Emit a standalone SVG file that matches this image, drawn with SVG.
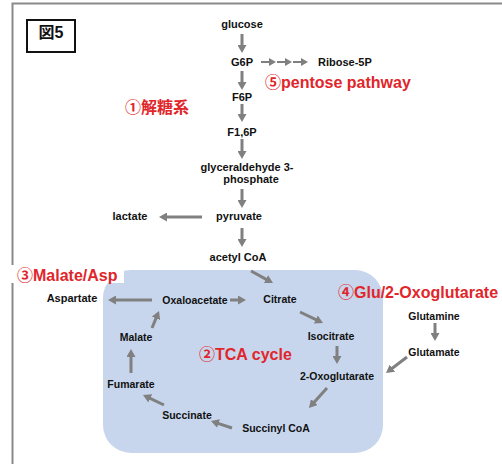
<svg xmlns="http://www.w3.org/2000/svg" width="502" height="464" viewBox="0 0 502 464">
<defs>
<style>
.t{font-family:"Liberation Sans","Noto Sans CJK JP",Arial,sans-serif;font-weight:bold;fill:#111;text-anchor:middle}
.s11{font-size:11px}
.s10{font-size:10.5px}
.r{font-family:"Liberation Sans","Noto Sans CJK JP",Arial,sans-serif;font-weight:bold;fill:#e0262b;font-size:16px}
.a{stroke:#808080;stroke-width:3;fill:none;marker-end:url(#ah)}
.b{stroke:#808080;stroke-width:2;fill:none;marker-end:url(#sh)}
</style>
<marker id="ah" markerUnits="userSpaceOnUse" markerWidth="8" markerHeight="9" refX="3" refY="4.5" orient="auto" viewBox="0 0 8 9">
<path d="M0,0 L8,4.5 L0,9 z" fill="#808080"/>
</marker>
<marker id="sh" markerUnits="userSpaceOnUse" markerWidth="7" markerHeight="8" refX="2" refY="4" orient="auto" viewBox="0 0 7 8">
<path d="M0,0 L7,4 L0,8 z" fill="#808080"/>
</marker>
</defs>
<rect width="502" height="464" fill="#ffffff"/>
<g id="frame">
<path d="M12.5,464 L12.5,3.5 L502,3.5" fill="none" stroke="#8a8a8a" stroke-width="2"/>
</g>
<g id="fig-label">
<rect x="27" y="20" width="48" height="32" fill="#fff" stroke="#111" stroke-width="2"/>
<text class="t" x="51" y="38" style="font-size:16px">図5</text>
</g>
<g id="tca-area">
<rect x="103" y="270" width="280" height="183" rx="28" fill="#c7d6ed"/>
</g>
<g id="connectors">
<line class="a" x1="242" y1="34" x2="242" y2="48"/>
<line class="a" x1="242" y1="71" x2="242" y2="85"/>
<line class="a" x1="242" y1="104" x2="242" y2="117"/>
<line class="a" x1="242" y1="139" x2="242" y2="154"/>
<line class="a" x1="242" y1="189" x2="242" y2="203"/>
<line class="a" x1="202" y1="217" x2="164" y2="217"/>
<line class="a" x1="242" y1="228" x2="242" y2="242"/>
<line class="a" x1="251" y1="271" x2="268.6" y2="280.6"/>
<line class="a" x1="152" y1="300" x2="113" y2="300"/>
<line class="a" x1="230" y1="300" x2="241" y2="300"/>
<line class="a" x1="300" y1="312" x2="318.5" y2="320.8"/>
<line class="a" x1="337" y1="346" x2="337" y2="359"/>
<line class="a" x1="327" y1="388" x2="312.3" y2="404.3"/>
<line class="a" x1="232" y1="428" x2="215.7" y2="422.6"/>
<line class="a" x1="164" y1="405" x2="147.5" y2="397.1"/>
<line class="a" x1="131" y1="373" x2="131" y2="354"/>
<line class="a" x1="152" y1="328" x2="157.1" y2="315.6"/>
<line class="a" x1="435" y1="323" x2="435" y2="336"/>
<line class="a" x1="407" y1="357" x2="390" y2="370"/>
<line class="b" x1="261" y1="62" x2="271" y2="62"/>
<line class="b" x1="277" y1="62" x2="287" y2="62"/>
<line class="b" x1="293" y1="62" x2="303" y2="62"/>
</g>
<g id="glucose"><text class="t s11" x="242" y="28">glucose</text></g>
<g id="g6p"><text class="t s11" x="242" y="66">G6P</text></g>
<g id="ribose5p"><text class="t s11" x="318" y="66" style="text-anchor:start">Ribose-5P</text></g>
<g id="pentose-label"><text class="r" x="265" y="88">⑤pentose pathway</text></g>
<g id="f6p"><text class="t s11" x="242" y="101">F6P</text></g>
<g id="glycolysis-label"><text class="r" x="125" y="113">①解糖系</text></g>
<g id="f16p"><text class="t s11" x="242" y="136">F1,6P</text></g>
<g id="g3p"><text class="t s11" x="247" y="171">glyceraldehyde 3-</text><text class="t s11" x="251" y="183">phosphate</text></g>
<g id="pyruvate"><text class="t s11" x="239" y="220">pyruvate</text></g>
<g id="lactate"><text class="t s11" x="130" y="220">lactate</text></g>
<g id="acetylcoa"><text class="t s11" x="238" y="261">acetyl CoA</text></g>
<g id="malate-asp-label"><rect x="10" y="265" width="114" height="18" fill="#fff"/><text class="r" x="17" y="281">③Malate/Asp</text></g>
<g id="aspartate"><text class="t s11" x="72" y="302">Aspartate</text></g>
<g id="oxaloacetate"><text class="t s10" x="195" y="304">Oxaloacetate</text></g>
<g id="citrate"><text class="t s10" x="280" y="303">Citrate</text></g>
<g id="isocitrate"><text class="t s10" x="331" y="340">Isocitrate</text></g>
<g id="oxoglutarate"><text class="t s10" x="337" y="380">2-Oxoglutarate</text></g>
<g id="succinylcoa"><text class="t s10" x="276" y="432">Succinyl CoA</text></g>
<g id="succinate"><text class="t s10" x="187" y="419">Succinate</text></g>
<g id="fumarate"><text class="t s10" x="131" y="388">Fumarate</text></g>
<g id="malate"><text class="t s10" x="136" y="341">Malate</text></g>
<g id="tca-label"><text class="r" x="199" y="360">②TCA cycle</text></g>
<g id="glu-label"><text class="r" x="338" y="298">④Glu/2-Oxoglutarate</text></g>
<g id="glutamine"><text class="t s10" x="434" y="320">Glutamine</text></g>
<g id="glutamate"><text class="t s10" x="434" y="356">Glutamate</text></g>
</svg>
